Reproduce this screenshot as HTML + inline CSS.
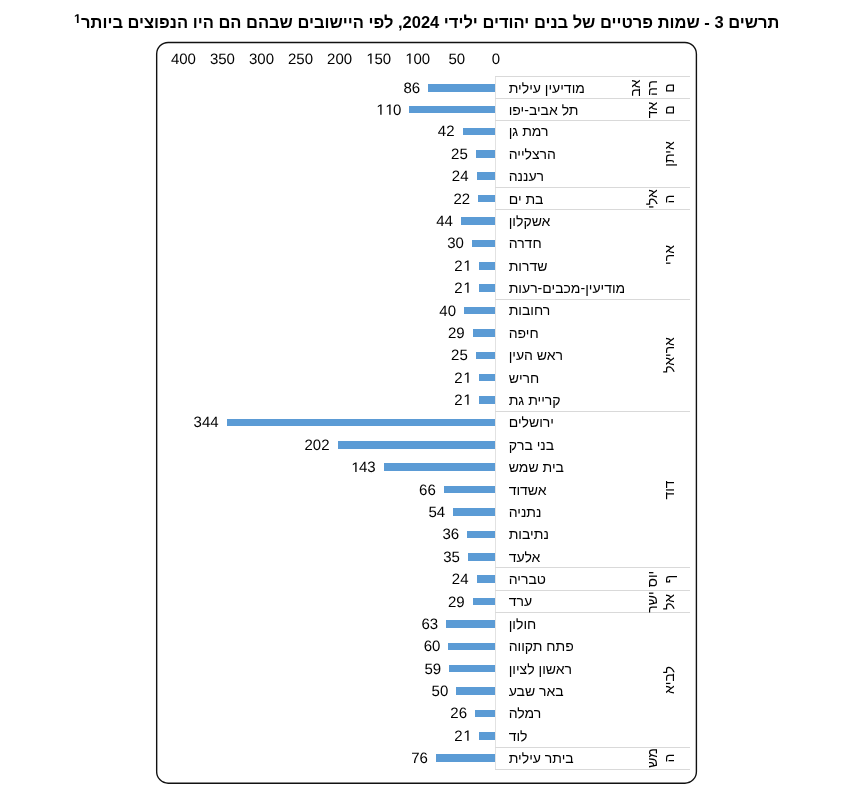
<!DOCTYPE html>
<html lang="he"><head><meta charset="utf-8"><title>chart</title>
<style>
html,body{margin:0;padding:0;background:#fff;}
body{width:847px;height:785px;position:relative;overflow:hidden;font-family:"Liberation Sans",sans-serif;color:#000;}
.a{position:absolute;white-space:nowrap;}
.t{position:absolute;right:67.6px;top:13.7px;font-size:16.51px;font-weight:bold;direction:rtl;white-space:nowrap;line-height:16.5px;}
.sup{position:absolute;left:74.2px;top:13.8px;width:6.95px;height:8.95px;}
.sup svg{position:absolute;left:0;top:0;width:6.95px;height:8.95px;fill:#000;}
.bx{position:absolute;left:0;top:0;}
.ax{position:absolute;top:50.9px;font-size:15px;line-height:17px;width:40px;text-align:center;text-rendering:geometricPrecision;}
.bar{position:absolute;background:#5b9bd5;height:7.6px;}
.v{position:absolute;font-size:15px;line-height:17px;text-align:right;width:40px;text-rendering:geometricPrecision;}
.c{position:absolute;left:508.7px;font-size:14px;line-height:16px;direction:rtl;white-space:nowrap;}
.h{position:absolute;left:495.3px;width:194.4px;height:1px;background:#d9d9d9;}
.vl{position:absolute;left:495px;width:1px;background:#e2e2e2;}
.o{width:0.5562em;height:0.7158em;vertical-align:baseline;display:inline-block;fill:currentColor;}
.g{position:absolute;font-size:14px;line-height:16px;direction:rtl;white-space:nowrap;width:60px;text-align:center;transform:rotate(-90deg);}
</style></head><body>
<div style="position:absolute;left:0;top:0;width:847px;height:785px;will-change:transform">
<div class="t">תרשים 3 - שמות פרטיים של בנים יהודים ילידי 2024, לפי היישובים שבהם הם היו הנפוצים ביותר</div><div class="sup"><svg class="o" viewBox="0 -1466 1139 1466"><path d="M478,0L759,0L759,-1409L493,-1409L140,-1180L140,-959L478,-1170Z"/></svg></div>
<svg class="bx" width="847" height="785"><rect x="156.67" y="42.45" width="539.73" height="740.75" rx="11.5" ry="11.5" fill="none" stroke="#111" stroke-width="1.4"/></svg>
<div class="ax" style="left:475.80px">0</div>
<div class="ax" style="left:436.75px">50</div>
<div class="ax" style="left:397.70px"><svg class="o" viewBox="0 -1466 1139 1466"><path d="M583,0L763,0L763,-1409L598,-1409L250,-1180L250,-1010L583,-1237Z"/></svg>00</div>
<div class="ax" style="left:358.65px"><svg class="o" viewBox="0 -1466 1139 1466"><path d="M583,0L763,0L763,-1409L598,-1409L250,-1180L250,-1010L583,-1237Z"/></svg>50</div>
<div class="ax" style="left:319.60px">200</div>
<div class="ax" style="left:280.55px">250</div>
<div class="ax" style="left:241.50px">300</div>
<div class="ax" style="left:202.45px">350</div>
<div class="ax" style="left:163.40px">400</div>
<div class="vl" style="top:76.60px;height:692.81px"></div>
<div class="h" style="top:76.10px"></div>
<div class="h" style="top:98.40px"></div>
<div class="h" style="top:119.80px"></div>
<div class="h" style="top:186.95px"></div>
<div class="h" style="top:209.33px"></div>
<div class="h" style="top:298.86px"></div>
<div class="h" style="top:410.78px"></div>
<div class="h" style="top:567.46px"></div>
<div class="h" style="top:589.84px"></div>
<div class="h" style="top:612.23px"></div>
<div class="h" style="top:746.52px"></div>
<div class="h" style="top:768.91px"></div>
<div class="bar" style="left:428.13px;width:67.17px;top:83.95px"></div>
<div class="v" style="left:380.13px;top:79.75px">86</div>
<div class="c" style="top:79.65px">מודיעין עילית</div>
<div class="bar" style="left:409.39px;width:85.91px;top:105.80px"></div>
<div class="v" style="left:361.39px;top:101.60px"><svg class="o" viewBox="0 -1466 1139 1466"><path d="M583,0L763,0L763,-1409L598,-1409L250,-1180L250,-1010L583,-1237Z"/></svg><svg class="o" viewBox="0 -1466 1139 1466"><path d="M583,0L763,0L763,-1409L598,-1409L250,-1180L250,-1010L583,-1237Z"/></svg>0</div>
<div class="c" style="top:101.50px">תל אביב-יפו</div>
<div class="bar" style="left:462.50px;width:32.80px;top:127.69px"></div>
<div class="v" style="left:414.50px;top:123.49px">42</div>
<div class="c" style="top:123.39px">רמת גן</div>
<div class="bar" style="left:475.78px;width:19.53px;top:150.07px"></div>
<div class="v" style="left:427.78px;top:145.87px">25</div>
<div class="c" style="top:145.77px">הרצלייה</div>
<div class="bar" style="left:476.56px;width:18.74px;top:172.46px"></div>
<div class="v" style="left:428.56px;top:168.26px">24</div>
<div class="c" style="top:168.16px">רעננה</div>
<div class="bar" style="left:478.12px;width:17.18px;top:194.84px"></div>
<div class="v" style="left:430.12px;top:190.64px">22</div>
<div class="c" style="top:190.54px">בת ים</div>
<div class="bar" style="left:460.94px;width:34.36px;top:217.22px"></div>
<div class="v" style="left:412.94px;top:213.02px">44</div>
<div class="c" style="top:212.92px">אשקלון</div>
<div class="bar" style="left:471.87px;width:23.43px;top:239.61px"></div>
<div class="v" style="left:423.87px;top:235.41px">30</div>
<div class="c" style="top:235.31px">חדרה</div>
<div class="bar" style="left:478.90px;width:16.40px;top:261.99px"></div>
<div class="v" style="left:430.90px;top:257.79px">2<svg class="o" viewBox="0 -1466 1139 1466"><path d="M583,0L763,0L763,-1409L598,-1409L250,-1180L250,-1010L583,-1237Z"/></svg></div>
<div class="c" style="top:257.69px">שדרות</div>
<div class="bar" style="left:478.90px;width:16.40px;top:284.37px"></div>
<div class="v" style="left:430.90px;top:280.17px">2<svg class="o" viewBox="0 -1466 1139 1466"><path d="M583,0L763,0L763,-1409L598,-1409L250,-1180L250,-1010L583,-1237Z"/></svg></div>
<div class="c" style="top:280.07px">מודיעין-מכבים-רעות</div>
<div class="bar" style="left:464.06px;width:31.24px;top:306.76px"></div>
<div class="v" style="left:416.06px;top:302.56px">40</div>
<div class="c" style="top:302.46px">רחובות</div>
<div class="bar" style="left:472.65px;width:22.65px;top:329.14px"></div>
<div class="v" style="left:424.65px;top:324.94px">29</div>
<div class="c" style="top:324.84px">חיפה</div>
<div class="bar" style="left:475.78px;width:19.53px;top:351.52px"></div>
<div class="v" style="left:427.78px;top:347.32px">25</div>
<div class="c" style="top:347.22px">ראש העין</div>
<div class="bar" style="left:478.90px;width:16.40px;top:373.90px"></div>
<div class="v" style="left:430.90px;top:369.70px">2<svg class="o" viewBox="0 -1466 1139 1466"><path d="M583,0L763,0L763,-1409L598,-1409L250,-1180L250,-1010L583,-1237Z"/></svg></div>
<div class="c" style="top:369.60px">חריש</div>
<div class="bar" style="left:478.90px;width:16.40px;top:396.29px"></div>
<div class="v" style="left:430.90px;top:392.09px">2<svg class="o" viewBox="0 -1466 1139 1466"><path d="M583,0L763,0L763,-1409L598,-1409L250,-1180L250,-1010L583,-1237Z"/></svg></div>
<div class="c" style="top:391.99px">קריית גת</div>
<div class="bar" style="left:226.64px;width:268.66px;top:418.67px"></div>
<div class="v" style="left:178.64px;top:414.47px">344</div>
<div class="c" style="top:414.37px">ירושלים</div>
<div class="bar" style="left:337.54px;width:157.76px;top:441.05px"></div>
<div class="v" style="left:289.54px;top:436.85px">202</div>
<div class="c" style="top:436.75px">בני ברק</div>
<div class="bar" style="left:383.62px;width:111.68px;top:463.44px"></div>
<div class="v" style="left:335.62px;top:459.24px"><svg class="o" viewBox="0 -1466 1139 1466"><path d="M583,0L763,0L763,-1409L598,-1409L250,-1180L250,-1010L583,-1237Z"/></svg>43</div>
<div class="c" style="top:459.14px">בית שמש</div>
<div class="bar" style="left:443.75px;width:51.55px;top:485.82px"></div>
<div class="v" style="left:395.75px;top:481.62px">66</div>
<div class="c" style="top:481.52px">אשדוד</div>
<div class="bar" style="left:453.13px;width:42.17px;top:508.20px"></div>
<div class="v" style="left:405.13px;top:504.00px">54</div>
<div class="c" style="top:503.90px">נתניה</div>
<div class="bar" style="left:467.18px;width:28.12px;top:530.59px"></div>
<div class="v" style="left:419.18px;top:526.39px">36</div>
<div class="c" style="top:526.29px">נתיבות</div>
<div class="bar" style="left:467.97px;width:27.34px;top:552.97px"></div>
<div class="v" style="left:419.97px;top:548.77px">35</div>
<div class="c" style="top:548.67px">אלעד</div>
<div class="bar" style="left:476.56px;width:18.74px;top:575.35px"></div>
<div class="v" style="left:428.56px;top:571.15px">24</div>
<div class="c" style="top:571.05px">טבריה</div>
<div class="bar" style="left:472.65px;width:22.65px;top:597.73px"></div>
<div class="v" style="left:424.65px;top:593.53px">29</div>
<div class="c" style="top:593.43px">ערד</div>
<div class="bar" style="left:446.10px;width:49.20px;top:620.12px"></div>
<div class="v" style="left:398.10px;top:615.92px">63</div>
<div class="c" style="top:615.82px">חולון</div>
<div class="bar" style="left:448.44px;width:46.86px;top:642.50px"></div>
<div class="v" style="left:400.44px;top:638.30px">60</div>
<div class="c" style="top:638.20px">פתח תקווה</div>
<div class="bar" style="left:449.22px;width:46.08px;top:664.88px"></div>
<div class="v" style="left:401.22px;top:660.68px">59</div>
<div class="c" style="top:660.58px">ראשון לציון</div>
<div class="bar" style="left:456.25px;width:39.05px;top:687.27px"></div>
<div class="v" style="left:408.25px;top:683.07px">50</div>
<div class="c" style="top:682.97px">באר שבע</div>
<div class="bar" style="left:474.99px;width:20.31px;top:709.65px"></div>
<div class="v" style="left:426.99px;top:705.45px">26</div>
<div class="c" style="top:705.35px">רמלה</div>
<div class="bar" style="left:478.90px;width:16.40px;top:732.03px"></div>
<div class="v" style="left:430.90px;top:727.83px">2<svg class="o" viewBox="0 -1466 1139 1466"><path d="M583,0L763,0L763,-1409L598,-1409L250,-1180L250,-1010L583,-1237Z"/></svg></div>
<div class="c" style="top:727.73px">לוד</div>
<div class="bar" style="left:435.94px;width:59.36px;top:754.42px"></div>
<div class="v" style="left:387.94px;top:750.22px">76</div>
<div class="c" style="top:750.12px">ביתר עילית</div>
<div class="g" style="left:605.40px;top:79.75px">אב</div>
<div class="g" style="left:621.80px;top:79.75px">רה</div>
<div class="g" style="left:638.60px;top:79.75px">ם</div>
<div class="g" style="left:621.80px;top:101.60px">אד</div>
<div class="g" style="left:638.60px;top:101.60px">ם</div>
<div class="g" style="left:638.60px;top:145.87px">איתן</div>
<div class="g" style="left:621.80px;top:190.64px">אלי</div>
<div class="g" style="left:638.60px;top:190.64px">ה</div>
<div class="g" style="left:638.60px;top:246.60px">ארי</div>
<div class="g" style="left:638.60px;top:347.32px">אריאל</div>
<div class="g" style="left:638.60px;top:481.62px">דוד</div>
<div class="g" style="left:621.80px;top:571.15px">יוס</div>
<div class="g" style="left:638.60px;top:571.15px">ף</div>
<div class="g" style="left:621.80px;top:593.53px">ישר</div>
<div class="g" style="left:638.60px;top:593.53px">אל</div>
<div class="g" style="left:638.60px;top:671.88px">לביא</div>
<div class="g" style="left:621.80px;top:750.22px">מש</div>
<div class="g" style="left:638.60px;top:750.22px">ה</div>
</div></body></html>
